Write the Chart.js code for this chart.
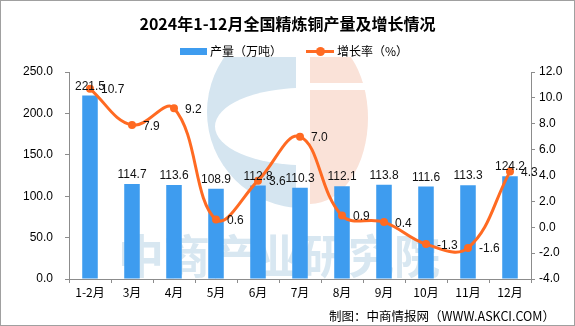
<!DOCTYPE html>
<html>
<head>
<meta charset="utf-8">
<script src="https://cdn.jsdelivr.net/npm/chart.js@4/dist/chart.umd.min.js"></script>
<style>
  html, body { margin: 0; padding: 0; background: #fff; }
  #wrap { position: relative; width: 575px; height: 326px; overflow: hidden; background: #fff; }
  #c { position: absolute; left: 0; top: 0; }
  .frame { position: absolute; left: 0; top: 0; width: 575px; height: 326px; box-sizing: border-box; border: 1px solid #a0a0a0; pointer-events: none; }
  .title { position: absolute; left: 0; width: 575px; top: 12px; text-align: center; font: 700 16px "Noto Sans CJK SC", sans-serif; color: #000; line-height: 22px; white-space: nowrap; }
  .lg { position: absolute; font: 12px "Noto Sans CJK SC", sans-serif; color: #000; line-height: 16px; white-space: nowrap; }
  .sw-bar { position: absolute; left: 180px; top: 48px; width: 27px; height: 7px; background: #3E9CEF; }
  .sw-line { position: absolute; left: 306px; top: 50px; width: 28px; height: 3px; background: #FF6A22; }
  .sw-dot { position: absolute; left: 316px; top: 47px; width: 9px; height: 9px; border-radius: 50%; background: #FF6A22; }
  .foot { position: absolute; right: 20px; top: 307px; font: 12.5px "Noto Sans CJK SC", sans-serif; color: #000; line-height: 17px; white-space: nowrap; }
</style>
</head>
<body>
<div id="wrap">
  <canvas id="c" width="575" height="326"></canvas>
  <div class="title">2024年1-12月全国精炼铜产量及增长情况</div>
  <div class="sw-bar"></div>
  <div class="lg" style="left:210px; top:43px;">产量（万吨）</div>
  <div class="sw-line"></div>
  <div class="sw-dot"></div>
  <div class="lg" style="left:337px; top:43px;">增长率（%）</div>
  <div class="foot">制图：中商情报网（WWW.ASKCI.COM）</div>
  <div class="frame"></div>
</div>
<script>
// Monthly refined copper output (10k tonnes) and year-on-year growth (%)
const categories = ['1-2月', '3月', '4月', '5月', '6月', '7月', '8月', '9月', '10月', '11月', '12月'];
const outputValues = [221.5, 114.7, 113.6, 108.9, 112.8, 110.3, 112.1, 113.8, 111.6, 113.3, 124.2];
const growthValues = [10.7, 7.9, 9.2, 0.6, 3.6, 7.0, 0.9, 0.4, -1.3, -1.6, 4.3];
const outputTicks = [0, 50, 100, 150, 200, 250];
const growthTicks = [-4, -2, 0, 2, 4, 6, 8, 10, 12];

const BAR_COLOR = '#3E9CEF';
const LINE_COLOR = '#FF6A22';
const AXIS_COLOR = '#8c8c8c';
const NUM_FONT = '12px "Liberation Sans", sans-serif';

// Faint brand watermark behind the series
const watermark = {
  id: 'watermark',
  beforeDatasetsDraw(chart) {
    const ctx = chart.ctx;
    ctx.save();
    ctx.beginPath();
    ctx.rect(0, 57, 575, 269);
    ctx.clip();

    // left blue "C"
    ctx.save();
    ctx.beginPath();
    ctx.rect(0, 0, 296, 326);
    ctx.clip();
    ctx.fillStyle = '#d5e5f0';
    ctx.beginPath();
    ctx.arc(303, 112, 96, 0, Math.PI * 2);
    ctx.fill();
    ctx.fillStyle = '#ffffff';
    ctx.beginPath();
    ctx.ellipse(303, 126.5, 88, 38.5, 0, 0, Math.PI * 2);
    ctx.fill();
    ctx.restore();

    // right orange half
    ctx.save();
    ctx.beginPath();
    ctx.rect(310, 0, 100, 326);
    ctx.clip();
    ctx.fillStyle = '#fae2d8';
    ctx.beginPath();
    ctx.ellipse(310, 118, 58, 86, 0, 0, Math.PI * 2);
    ctx.fill();
    ctx.fillStyle = '#ffffff';
    ctx.fillRect(310, 83, 70, 7);
    ctx.restore();

    // company name
    ctx.fillStyle = '#d8e7f1';
    ctx.font = '700 46px "Noto Sans CJK SC", sans-serif';
    ctx.textAlign = 'left';
    ctx.textBaseline = 'middle';
    ctx.fillText('中商产业研究院', 118, 256);
    ctx.restore();
  }
};

// Value labels: above each bar, to the right of each line point
const valueLabels = {
  id: 'valueLabels',
  afterDatasetsDraw(chart) {
    const ctx = chart.ctx;
    ctx.save();
    ctx.font = NUM_FONT;
    ctx.fillStyle = '#111';
    ctx.textBaseline = 'alphabetic';
    const barMeta = chart.getDatasetMeta(1);
    ctx.textAlign = 'center';
    barMeta.data.forEach((el, i) => {
      ctx.fillText(outputValues[i].toFixed(1), el.x, el.y - 6);
    });
    const lineMeta = chart.getDatasetMeta(0);
    ctx.textAlign = 'left';
    lineMeta.data.forEach((el, i) => {
      ctx.fillText(growthValues[i].toFixed(1), el.x + 11, el.y + 4.5);
    });
    ctx.restore();
  }
};

new Chart(document.getElementById('c'), {
  data: {
    labels: categories,
    datasets: [
      {
        type: 'line',
        label: '增长率（%）',
        data: growthValues,
        yAxisID: 'y1',
        borderColor: LINE_COLOR,
        backgroundColor: LINE_COLOR,
        borderWidth: 3,
        tension: 0.4,
        pointRadius: 4,
        pointBorderWidth: 0,
        pointBackgroundColor: LINE_COLOR,
        order: 0
      },
      {
        type: 'bar',
        label: '产量（万吨）',
        data: outputValues,
        yAxisID: 'y',
        backgroundColor: BAR_COLOR,
        barPercentage: 0.37,
        categoryPercentage: 1,
        order: 1
      }
    ]
  },
  options: {
    responsive: false,
    devicePixelRatio: 1,
    animation: false,
    layout: { padding: { top: 72, left: 0, right: 0, bottom: 0 } },
    plugins: {
      legend: { display: false },
      title: { display: false },
      tooltip: { enabled: false }
    },
    scales: {
      x: {
        offset: true,
        border: { color: AXIS_COLOR, width: 1 },
        grid: { display: true, drawOnChartArea: false, drawTicks: true, tickLength: 4, color: AXIS_COLOR, offset: true },
        ticks: { color: '#000', font: { family: '"Noto Sans CJK SC", sans-serif', size: 12 }, padding: 2, maxRotation: 0, autoSkip: false },
        afterFit(scale) { scale.height = 47; }
      },
      y: {
        position: 'left',
        min: 0,
        max: 250,
        afterBuildTicks(scale) { scale.ticks = outputTicks.map(v => ({ value: v })); },
        border: { color: AXIS_COLOR, width: 1 },
        grid: { display: true, drawOnChartArea: false, drawTicks: true, tickLength: 4, color: AXIS_COLOR },
        ticks: { color: '#000', font: { family: '"Liberation Sans", sans-serif', size: 12 }, padding: 12, callback: v => Number(v).toFixed(1) },
        afterFit(scale) { scale.width = 69; }
      },
      y1: {
        position: 'right',
        min: -4,
        max: 12,
        afterBuildTicks(scale) { scale.ticks = growthTicks.map(v => ({ value: v })); },
        border: { color: AXIS_COLOR, width: 1 },
        grid: { display: true, drawOnChartArea: false, drawTicks: true, tickLength: 4, color: AXIS_COLOR },
        ticks: { color: '#000', font: { family: '"Liberation Sans", sans-serif', size: 12 }, padding: 4, callback: v => Number(v).toFixed(1) },
        afterFit(scale) { scale.width = 44; }
      }
    }
  },
  plugins: [watermark, valueLabels]
});
</script>
</body>
</html>
